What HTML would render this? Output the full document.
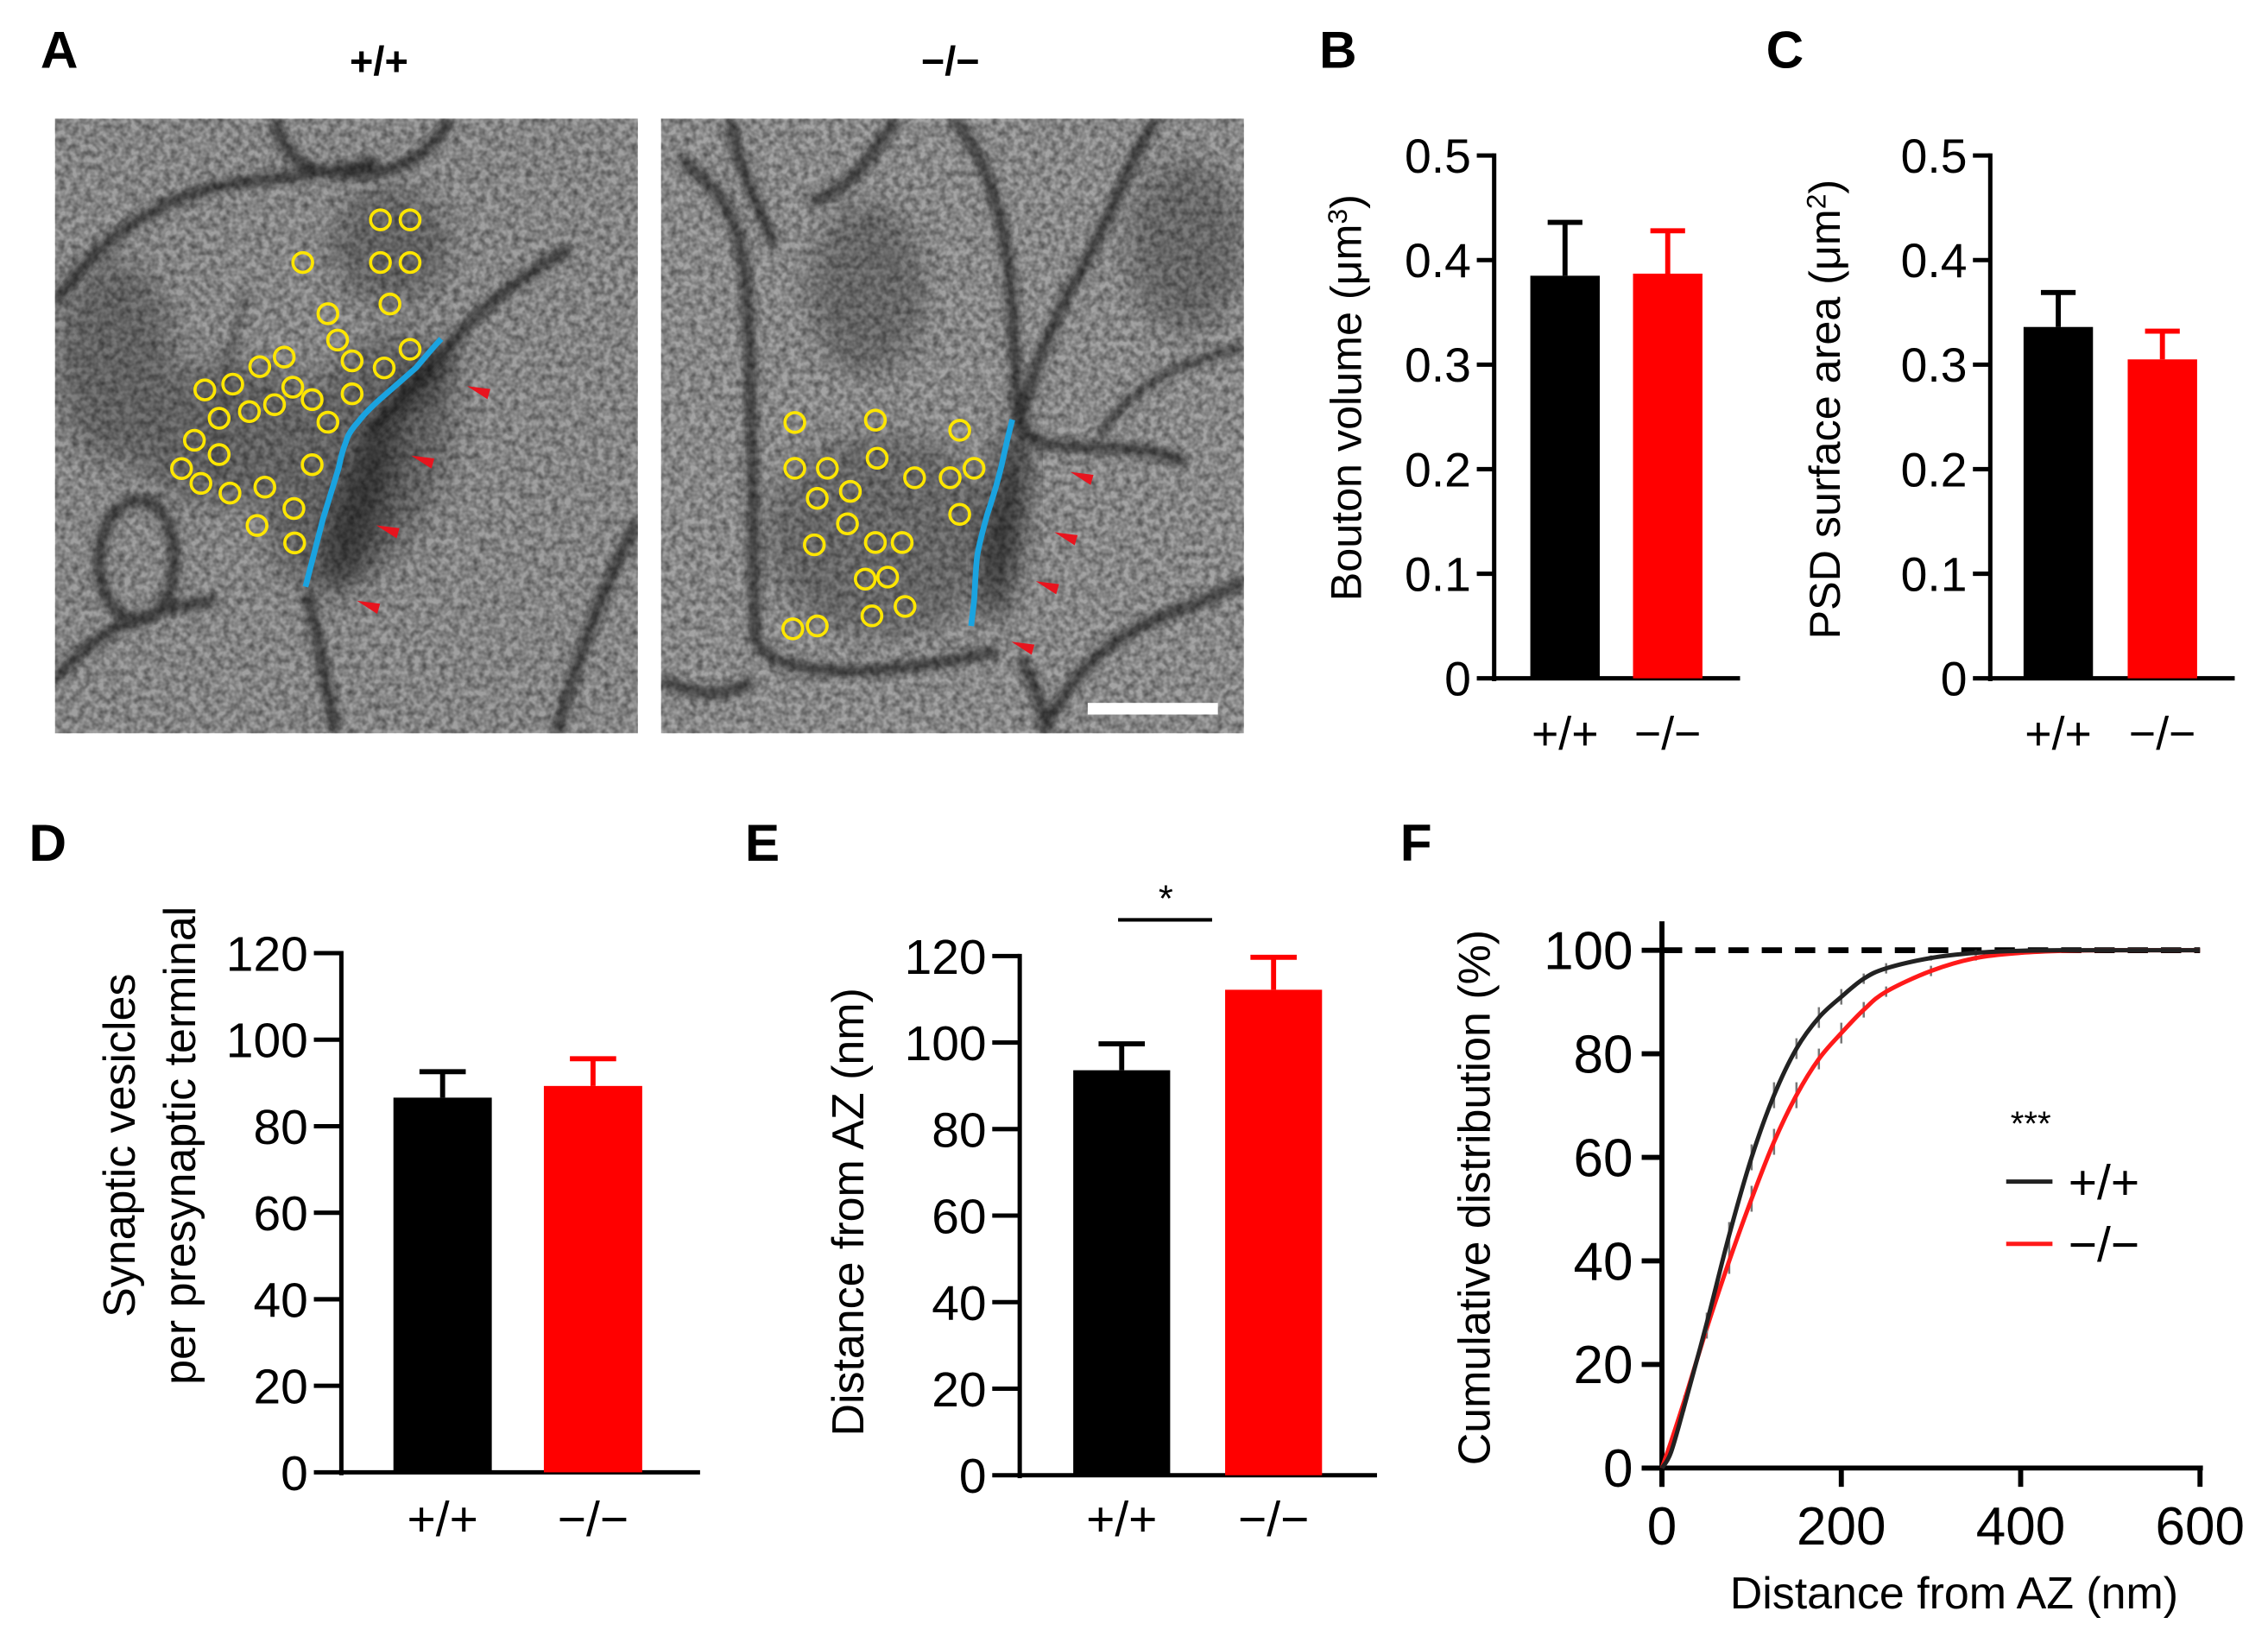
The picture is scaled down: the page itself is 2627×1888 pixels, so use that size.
<!DOCTYPE html>
<html><head><meta charset="utf-8">
<style>
html,body{margin:0;padding:0;background:#fff;}
svg{display:block;font-family:"Liberation Sans",Arial,sans-serif;}
</style></head>
<body>
<svg id="fig" width="2627" height="1888" viewBox="0 0 1568 1127" preserveAspectRatio="none" xmlns="http://www.w3.org/2000/svg">
<defs>
<filter id="noise" x="0" y="0" width="100%" height="100%">
<feTurbulence type="fractalNoise" baseFrequency="0.22" numOctaves="2" seed="3" result="t"/>
<feColorMatrix type="matrix" values="0 0 0 0 0  0 0 0 0 0  0 0 0 0 0  0 0 0 -1.6 1.15" />
</filter>
<filter id="blur4"><feGaussianBlur stdDeviation="3"/></filter>
<filter id="blur10"><feGaussianBlur stdDeviation="9"/></filter>
<clipPath id="clip1"><rect x="38" y="82" width="403" height="425"/></clipPath>
<clipPath id="clip2"><rect x="457" y="82" width="403" height="425"/></clipPath>
</defs>

<text x="28" y="47" font-size="36" font-weight="bold">A</text>
<text x="262" y="52" font-size="28" font-weight="bold" text-anchor="middle">+/+</text>
<text x="657" y="52" font-size="28" font-weight="bold" text-anchor="middle">−/−</text>

<g clip-path="url(#clip1)">
<rect x="38" y="82" width="403" height="425" fill="#a0a0a0"/>
<g filter="url(#blur10)" fill="#555" opacity="0.55">
<ellipse cx="250" cy="320" rx="55" ry="95" transform="rotate(25 250 320)"/>
<ellipse cx="160" cy="300" rx="70" ry="50"/>
<ellipse cx="270" cy="170" rx="40" ry="40"/>
<ellipse cx="80" cy="250" rx="40" ry="70"/>
</g>
<g filter="url(#blur10)" fill="#333" opacity="0.8">
<ellipse cx="250" cy="345" rx="16" ry="65" transform="rotate(18 250 345)"/>
<ellipse cx="290" cy="265" rx="10" ry="35" transform="rotate(45 290 265)"/>
</g>
<g filter="url(#blur4)" fill="none" stroke="#2a2a2a" stroke-width="7" opacity="0.85">
<path d="M190 82 C195 110 215 122 250 120 C285 118 300 100 312 82"/>
<path d="M38 210 C70 160 120 130 175 125 C215 120 240 118 260 110"/>
<path d="M395 172 C360 190 330 215 310 240 C290 262 270 285 255 300"/>
<path d="M75 360 C95 330 125 350 120 395 C118 430 90 440 75 415 C65 395 68 375 75 360Z"/>
<path d="M212 410 C220 440 225 470 232 507"/>
<path d="M441 360 C420 400 400 450 385 507"/>
<path d="M38 470 C70 430 110 420 150 415"/>
<path d="M170 200 C160 240 150 280 150 330" stroke-width="4" opacity="0.6"/>
</g>
<rect x="38" y="82" width="403" height="425" fill="#fff" filter="url(#noise)" opacity="0.5"/>
</g>

<g clip-path="url(#clip2)">
<rect x="457" y="82" width="403" height="425" fill="#a4a4a4"/>
<g filter="url(#blur10)" fill="#555" opacity="0.5">
<ellipse cx="610" cy="370" rx="80" ry="70"/>
<ellipse cx="600" cy="200" rx="40" ry="60"/>
<ellipse cx="820" cy="170" rx="40" ry="60"/>
</g>
<g filter="url(#blur10)" fill="#222" opacity="0.8">
<ellipse cx="695" cy="360" rx="12" ry="70" transform="rotate(8 695 360)"/>
</g>
<g filter="url(#blur4)" fill="none" stroke="#2a2a2a" stroke-width="7" opacity="0.85">
<path d="M470 110 C490 125 510 140 515 190 C520 240 520 330 522 440 C530 470 600 470 690 450"/>
<path d="M505 82 C510 120 525 140 535 170"/>
<path d="M620 82 C600 110 590 130 560 140"/>
<path d="M660 82 C690 120 700 180 700 230 C705 260 700 275 705 295"/>
<path d="M800 82 C780 110 770 150 740 200 C720 240 710 270 705 295 C720 320 780 300 820 320"/>
<path d="M860 240 C820 250 790 260 760 300" stroke-width="5"/>
<path d="M720 507 C740 470 760 440 820 420 C850 410 860 400 860 400"/>
<path d="M705 455 C715 470 720 490 725 507"/>
<path d="M457 470 C480 480 500 485 520 470"/>
</g>
<rect x="457" y="82" width="403" height="425" fill="#fff" filter="url(#noise)" opacity="0.5"/>
</g>
<g id="emOverlay"></g>
<rect x="752" y="486" width="90" height="8" fill="#fff"/>

<g id="charts"></g>
</svg>

<script>
// ---------- Panel B data ----------
const bCategories = ["+/+", "−/−"];
const bValues = [0.385, 0.387];
const bErrors = [0.051, 0.041];
const bTicks = [0, 0.1, 0.2, 0.3, 0.4, 0.5];
const bTickLabels = ["0", "0.1", "0.2", "0.3", "0.4", "0.5"];
// ---------- Panel C data ----------
const cCategories = ["+/+", "−/−"];
const cValues = [0.336, 0.305];
const cErrors = [0.033, 0.027];
const cTicks = [0, 0.1, 0.2, 0.3, 0.4, 0.5];
const cTickLabels = ["0", "0.1", "0.2", "0.3", "0.4", "0.5"];
// ---------- Panel D data ----------
const dCategories = ["+/+", "−/−"];
const dValues = [86.6, 89.3];
const dErrors = [6.0, 6.3];
const dTicks = [0, 20, 40, 60, 80, 100, 120];
const dTickLabels = ["0", "20", "40", "60", "80", "100", "120"];
// ---------- Panel E data ----------
const eCategories = ["+/+", "−/−"];
const eValues = [93.6, 112.2];
const eErrors = [6.1, 7.5];
const eTicks = [0, 20, 40, 60, 80, 100, 120];
const eTickLabels = ["0", "20", "40", "60", "80", "100", "120"];
// ---------- Panel F data ----------
const fDistances = [0, 10, 25, 50, 75, 100, 125, 150, 175, 200, 225, 250, 300, 350, 400, 450, 500, 600];
const fWildtype = [0, 3, 12, 28, 45, 60, 72, 81, 87, 91, 94.5, 96.5, 98.5, 99.5, 99.9, 100, 100, 100];
const fKnockout = [0, 5, 13, 27, 40, 52, 63, 72, 79, 84, 88.5, 92, 96, 98.5, 99.5, 99.9, 100, 100];
const fWildtypeErr = [0, 0.5, 1, 2, 2.5, 2.5, 2.5, 2, 2, 1.5, 1, 1, 0.5, 0.5, 0.3, 0.2, 0, 0];
const fKnockoutErr = [0, 0.5, 1, 2, 2.5, 2.5, 2.5, 2.5, 2, 2, 1.5, 1, 1, 0.5, 0.3, 0.2, 0, 0];
const fXTicks = [0, 200, 400, 600];
const fYTicks = [0, 20, 40, 60, 80, 100];

const NS = "http://www.w3.org/2000/svg";
const root = document.getElementById("charts");
function mk(tag, attrs, parent, txt) {
  const el = document.createElementNS(NS, tag);
  for (const k in attrs) el.setAttribute(k, attrs[k]);
  if (txt !== undefined) el.textContent = txt;
  (parent || root).appendChild(el);
  return el;
}
const COLORS = ["#000", "#ff0000"];

function barChart(cfg) {
  const g = mk("g", {});
  
  
  const y = v => cfg.y0 - (v - cfg.min) / (cfg.max - cfg.min) * (cfg.y0 - cfg.yTop);
  const ya = mk("line", {x1: cfg.ax, y1: y(cfg.max) - 1.5, x2: cfg.ax, y2: cfg.y0 + 2, stroke: "#000", "stroke-width": 3}, g);
  
  
  const xa = mk("line", {x1: cfg.ax - 1.5, y1: cfg.y0, x2: cfg.xEnd, y2: cfg.y0, stroke: "#000", "stroke-width": 3}, g);
  
  
  cfg.ticks.forEach((t, i) => {
    const tk = mk("line", {x1: cfg.ax - cfg.tickLen, y1: y(t), x2: cfg.ax, y2: y(t), stroke: "#000", "stroke-width": 3}, g);
    
    
    const tl = mk("text", {x: cfg.ax - cfg.tickLen - 4, y: y(t) + cfg.fs * 0.36, "font-size": cfg.fs, "text-anchor": "end"}, g, cfg.tickLabels[i]);
    
    
  });
  cfg.values.forEach((v, i) => {
    const x0 = cfg.barX[i], w = cfg.barW;
    const c = COLORS[i];
    const eb = mk("line", {x1: x0 + w / 2, y1: y(v), x2: x0 + w / 2, y2: y(v + cfg.errors[i]), stroke: c, "stroke-width": 3.5}, g);
    
    
    const cap = mk("line", {x1: x0 + w / 2 - cfg.capW / 2, y1: y(v + cfg.errors[i]), x2: x0 + w / 2 + cfg.capW / 2, y2: y(v + cfg.errors[i]), stroke: c, "stroke-width": 3.5}, g);
    
    
    const b = mk("rect", {x: x0, y: y(v), width: w, height: cfg.y0 - y(v), fill: c}, g);
    
    
    const cl = mk("text", {x: x0 + w / 2, y: cfg.catY, "font-size": cfg.catFs, "text-anchor": "middle"}, g, cfg.categories[i]);
    
    
  });
  cfg.titles.forEach((tt, k) => {
    const t = mk("text", {x: tt.x, y: cfg.titleY, "font-size": cfg.titleFs, "text-anchor": "middle", transform: `rotate(-90 ${tt.x} ${cfg.titleY})`}, g);
    
    
    t.innerHTML = tt.html;
  });
  const pl = mk("text", {x: cfg.label[1], y: cfg.label[2], "font-size": 36, "font-weight": "bold"}, g, cfg.label[0]);
  
  
  return {g, y};
}

barChart({name: "bouton-volume-chart", ax: 1033, xEnd: 1203, y0: 469, yTop: 107.5, min: 0, max: 0.5,
  ticks: bTicks, tickLabels: bTickLabels, values: bValues, errors: bErrors, categories: bCategories,
  barX: [1058, 1129], barW: 48, capW: 24, tickLen: 12, fs: 33, catY: 518, catFs: 32,
  titles: [{x: 941, html: 'Bouton volume (μm<tspan dy="-10" font-size="19">3</tspan><tspan dy="10">)</tspan>'}],
  titleY: 275, titleFs: 30, label: ["B", 912, 47]});
barChart({name: "psd-surface-area-chart", ax: 1376, xEnd: 1545, y0: 469, yTop: 107.5, min: 0, max: 0.5,
  ticks: cTicks, tickLabels: cTickLabels, values: cValues, errors: cErrors, categories: cCategories,
  barX: [1399, 1471], barW: 48, capW: 24, tickLen: 12, fs: 33, catY: 518, catFs: 32,
  titles: [{x: 1272, html: 'PSD surface area (μm<tspan dy="-10" font-size="19">2</tspan><tspan dy="10">)</tspan>'}],
  titleY: 283, titleFs: 30, label: ["C", 1221, 47]});
barChart({name: "synaptic-vesicles-chart", ax: 236, xEnd: 484, y0: 1018, yTop: 659, min: 0, max: 120,
  ticks: dTicks, tickLabels: dTickLabels, values: dValues, errors: dErrors, categories: dCategories,
  barX: [272, 376], barW: 68, capW: 32, tickLen: 19, fs: 34, catY: 1062, catFs: 34,
  titles: [{x: 93, html: 'Synaptic vesicles'}, {x: 135, html: 'per presynaptic terminal'}],
  titleY: 792, titleFs: 31, label: ["D", 20, 595]});
barChart({name: "distance-from-az-chart", ax: 705, xEnd: 952, y0: 1020, yTop: 661, min: 0, max: 120,
  ticks: eTicks, tickLabels: eTickLabels, values: eValues, errors: eErrors, categories: eCategories,
  barX: [742, 847], barW: 67, capW: 32, tickLen: 19, fs: 34, catY: 1062, catFs: 34,
  titles: [{x: 597, html: 'Distance from AZ (nm)'}],
  titleY: 838, titleFs: 31, label: ["E", 515, 595]});
(function () {
  const sb = mk("line", {x1: 773, y1: 636, x2: 838, y2: 636, stroke: "#000", "stroke-width": 2.5});
  
  
  const st = mk("text", {x: 806, y: 630, "font-size": 26, "text-anchor": "middle"}, root, "*");
  
  
})();

// ---------- Panel F ----------
(function () {
  const g = mk("g", {});
  
  
  const X0 = 1149, X1 = 1521, Y0 = 1015, Y1 = 657;
  const x = v => X0 + v / 600 * (X1 - X0);
  const y = v => Y0 - v / 100 * (Y0 - Y1);
  const pl = mk("text", {x: 968, y: 595, "font-size": 36, "font-weight": "bold"}, g, "F");
  
  
  const ya = mk("line", {x1: X0, y1: 637, x2: X0, y2: Y0 + 13, stroke: "#000", "stroke-width": 3.5}, g);
  
  
  const xa = mk("line", {x1: X0 - 14, y1: Y0, x2: X1 + 2, y2: Y0, stroke: "#000", "stroke-width": 3.5}, g);
  
  
  fYTicks.forEach(t => {
    const tk = mk("line", {x1: X0 - 14, y1: y(t), x2: X0, y2: y(t), stroke: "#000", "stroke-width": 3.5}, g);
    
    
    const tl = mk("text", {x: X0 - 20, y: y(t) + 13, "font-size": 37, "text-anchor": "end"}, g, String(t));
    
    
  });
  fXTicks.forEach(t => {
    const tk = mk("line", {x1: x(t), y1: Y0, x2: x(t), y2: Y0 + 13, stroke: "#000", "stroke-width": 3.5}, g);
    
    
    const tl = mk("text", {x: x(t), y: 1068, "font-size": 37, "text-anchor": "middle"}, g, String(t));
    
    
  });
  const dl = mk("line", {x1: X0, y1: y(100), x2: X1, y2: y(100), stroke: "#000", "stroke-width": 4, "stroke-dasharray": "14 9"}, g);
  
  
  function series(vals, errs, color, name) {
    const sg = mk("g", {}, g);
    
    
    vals.forEach((v, i) => {
      if (errs[i] > 0) {
        const e = mk("line", {x1: x(fDistances[i]), y1: y(v - errs[i]), x2: x(fDistances[i]), y2: y(v + errs[i]), stroke: "#777", "stroke-width": 1.5}, sg);
        
        
      }
    });
    const pts = vals.map((v, i) => [x(fDistances[i]), y(v)]);
    let d = "M" + pts[0][0] + " " + pts[0][1];
    for (let i = 0; i < pts.length - 1; i++) {
      const p0 = pts[Math.max(i - 1, 0)], p1 = pts[i], p2 = pts[i + 1], p3 = pts[Math.min(i + 2, pts.length - 1)];
      const c1 = [p1[0] + (p2[0] - p0[0]) / 6, p1[1] + (p2[1] - p0[1]) / 6];
      const c2 = [p2[0] - (p3[0] - p1[0]) / 6, p2[1] - (p3[1] - p1[1]) / 6];
      d += ` C${c1[0]} ${c1[1]} ${c2[0]} ${c2[1]} ${p2[0]} ${p2[1]}`;
    }
    const p = mk("path", {d: d, fill: "none", stroke: color, "stroke-width": 3}, sg);
    
    
  }
  series(fKnockout, fKnockoutErr, "#ff1a1a", "knockout-curve");
  series(fWildtype, fWildtypeErr, "#222", "wildtype-curve");
  const yt = mk("text", {x: 1030, y: 828, "font-size": 31, "text-anchor": "middle", transform: "rotate(-90 1030 828)"}, g, "Cumulative distribution (%)");
  
  
  const xt = mk("text", {x: 1351, y: 1112, "font-size": 31, "text-anchor": "middle"}, g, "Distance from AZ (nm)");
  
  
  const st = mk("text", {x: 1404, y: 785, "font-size": 24, "text-anchor": "middle"}, g, "***");
  
  
  const lg = mk("g", {}, g);
  
  
  [["+/+", "#222", 817], ["−/−", "#ff1a1a", 860]].forEach(([lab, c, yy]) => {
    const e = mk("g", {}, lg);
    
    
    mk("line", {x1: 1387, y1: yy, x2: 1419, y2: yy, stroke: c, "stroke-width": 3}, e);
    mk("text", {x: 1430, y: yy + 12, "font-size": 34}, e, lab);
  });
})();

// ---------- EM overlays ----------
const vesiclesWT = [[263,152],[283.5,152],[209.3,181.5],[263,181.5],[283.5,181.5],[269.6,210.2],[226.7,216.9],[233.4,235.1],[283.5,241.5],[243.4,249.5],[265.6,254.4],[196.5,246.9],[179.6,253.5],[160.9,265.6],[141.6,269.6],[202.4,267.7],[215.8,276.3],[243.4,272.3],[189.8,279.8],[172.4,284.6],[151.5,289.2],[226.7,291.9],[134.4,304.4],[151.5,314.3],[125.5,324],[138.9,334.2],[159,340.9],[183.1,336.8],[215.8,321.3],[203.2,351.6],[177.7,363.3],[203.7,375.4]];
const vesiclesKO = [[549.5,292.1],[605.2,290.5],[663.5,297.5],[549.5,323.8],[572,323.8],[606.4,316.8],[632.3,330.3],[656.9,330.3],[673.4,323.8],[565,344.6],[587.9,339.7],[663.5,355.6],[585.9,362.2],[563,376.7],[605.2,375.1],[623.7,375.1],[598.2,400.4],[613.7,399],[625.7,419.3],[602.8,425.8],[548.1,434.8],[565,432.8]];
const ov = document.getElementById("emOverlay");
[[vesiclesWT, "vesicle-wildtype"], [vesiclesKO, "vesicle-knockout"]].forEach(([arr, nm]) => {
  arr.forEach(p => {
    const c = mk("circle", {cx: p[0], cy: p[1], r: 6.8, fill: "none", stroke: "#ffe600", "stroke-width": 2.2}, ov);
    
    
  });
});
const az1 = mk("path", {d: "M305 234.3 C297 243 293 248 287.5 254.4 C280 261 273 267 266.1 273.1 C258 280 252 286 247.4 291.9 C242 298 240 302 239.3 305.2 C236 313 235 320 234 324 L223.3 358.8 L211.2 405.7", fill: "none", stroke: "#1aa3e0", "stroke-width": 4}, ov);


const az2 = mk("path", {d: "M699.9 290.1 C696 305 694 315 692.3 322.4 C688 340 685 348 682.4 356.2 C678 372 676 380 675.4 386 C674 400 674 410 673.4 415.9 L671.4 432.8", fill: "none", stroke: "#1aa3e0", "stroke-width": 4}, ov);


[[337,276],[298.3,324],[274.2,372.2],[260.8,424.4],[754,335.3],[743,377],[730.2,410.9],[713.2,452.7]].forEach(t => {
  const a = mk("polygon", {points: `${t[0]},${t[1]} ${t[0]-14},${t[1]-9} ${t[0]+2},${t[1]-7}`, fill: "#e8141e"}, ov);
  
  
});
</script>
</body></html>
